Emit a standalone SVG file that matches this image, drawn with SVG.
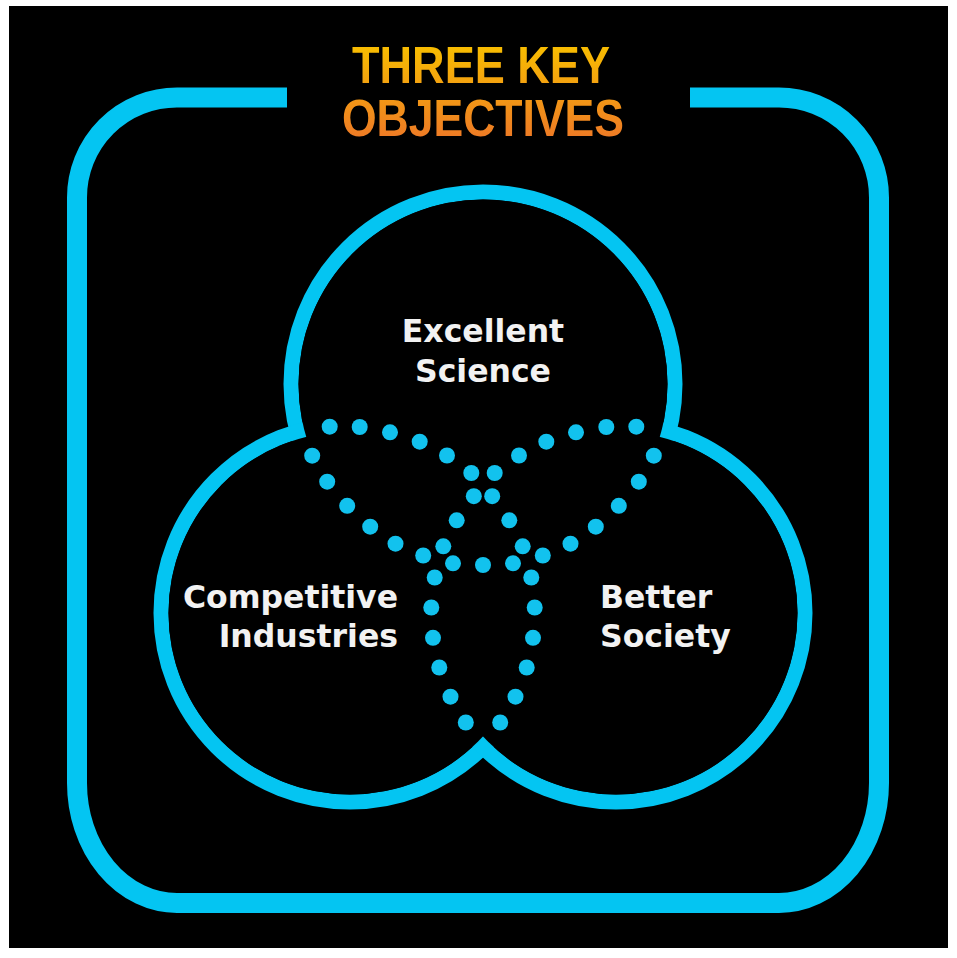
<svg xmlns="http://www.w3.org/2000/svg" width="957" height="958" viewBox="0 0 957 958">
<defs>
<linearGradient id="tg" gradientUnits="userSpaceOnUse" x1="0" y1="45" x2="0" y2="137">
<stop offset="0" stop-color="#F8BE00"/>
<stop offset="1" stop-color="#EE7B25"/>
</linearGradient>
<style>
.frame{fill:none;stroke:#04C5F2;stroke-width:20}
.ring{fill:none;stroke:#04C5F2;stroke-width:15}
.hole{fill:#000}
.dot{fill:#12C2EE}
.title{font-family:"Liberation Sans",Arial,sans-serif;font-weight:bold;font-size:52px;fill:url(#tg);text-anchor:middle}
.lbl{font-family:"DejaVu Sans","Liberation Sans",sans-serif;font-weight:bold;font-size:31.5px;fill:#F2F2F2}
</style>
</defs>
<rect x="0" y="0" width="957" height="958" fill="#fff"/>
<rect x="9" y="6" width="939" height="942" fill="#000"/>
<g id="frame">
<path class="frame" d="M287 97.5 H177 A100 100 0 0 0 77 197.5 V783 A100 120 0 0 0 177 903 H779 A100 120 0 0 0 879 783 V197.5 A100 100 0 0 0 779 97.5 H690"/>
</g>
<g id="title">
<text class="title" x="481" y="83" textLength="258" lengthAdjust="spacingAndGlyphs">THREE KEY</text>
<text class="title" x="483" y="136" textLength="282" lengthAdjust="spacingAndGlyphs">OBJECTIVES</text>
</g>
<g id="circles">
<circle class="ring" cx="483" cy="384" r="192"/>
<circle class="ring" cx="350" cy="613" r="189"/>
<circle class="ring" cx="616" cy="613" r="189"/>
<circle class="hole" cx="483" cy="384" r="184.5"/>
<circle class="hole" cx="350" cy="613" r="181.5"/>
<circle class="hole" cx="616" cy="613" r="181.5"/>
</g>
<g id="connectors">
<circle class="dot" cx="329.7" cy="426.7" r="8"/><circle class="dot" cx="636.3" cy="426.7" r="8"/>
<circle class="dot" cx="359.7" cy="427" r="8"/><circle class="dot" cx="606.3" cy="427" r="8"/>
<circle class="dot" cx="390" cy="432.3" r="8"/><circle class="dot" cx="576" cy="432.3" r="8"/>
<circle class="dot" cx="419.7" cy="441.7" r="8"/><circle class="dot" cx="546.3" cy="441.7" r="8"/>
<circle class="dot" cx="447" cy="455.5" r="8"/><circle class="dot" cx="519" cy="455.5" r="8"/>
<circle class="dot" cx="471.3" cy="473" r="8"/><circle class="dot" cx="494.7" cy="473" r="8"/>
<circle class="dot" cx="473.8" cy="496.2" r="8"/><circle class="dot" cx="492.2" cy="496.2" r="8"/>
<circle class="dot" cx="312.2" cy="455.7" r="8"/><circle class="dot" cx="653.8" cy="455.7" r="8"/>
<circle class="dot" cx="327.2" cy="481.7" r="8"/><circle class="dot" cx="638.8" cy="481.7" r="8"/>
<circle class="dot" cx="347.2" cy="505.8" r="8"/><circle class="dot" cx="618.8" cy="505.8" r="8"/>
<circle class="dot" cx="370.2" cy="526.7" r="8"/><circle class="dot" cx="595.8" cy="526.7" r="8"/>
<circle class="dot" cx="395.5" cy="543.7" r="8"/><circle class="dot" cx="570.5" cy="543.7" r="8"/>
<circle class="dot" cx="423.2" cy="555.5" r="8"/><circle class="dot" cx="542.8" cy="555.5" r="8"/>
<circle class="dot" cx="443.3" cy="546.3" r="8"/><circle class="dot" cx="522.7" cy="546.3" r="8"/>
<circle class="dot" cx="453" cy="563.3" r="8"/><circle class="dot" cx="513" cy="563.3" r="8"/>
<circle class="dot" cx="456.7" cy="520.3" r="8"/><circle class="dot" cx="509.3" cy="520.3" r="8"/>
<circle class="dot" cx="483" cy="565" r="8"/>
<circle class="dot" cx="434.7" cy="577.5" r="8"/><circle class="dot" cx="531.3" cy="577.5" r="8"/>
<circle class="dot" cx="431.3" cy="607.5" r="8"/><circle class="dot" cx="534.7" cy="607.5" r="8"/>
<circle class="dot" cx="433" cy="637.8" r="8"/><circle class="dot" cx="533" cy="637.8" r="8"/>
<circle class="dot" cx="439.3" cy="667.5" r="8"/><circle class="dot" cx="526.7" cy="667.5" r="8"/>
<circle class="dot" cx="450.5" cy="696.7" r="8"/><circle class="dot" cx="515.5" cy="696.7" r="8"/>
<circle class="dot" cx="465.8" cy="722.5" r="8"/><circle class="dot" cx="500.2" cy="722.5" r="8"/>
</g>
<g id="excellent-science">
<text class="lbl" x="483" y="342" text-anchor="middle">Excellent</text>
<text class="lbl" x="483" y="382" text-anchor="middle">Science</text>
</g>
<g id="competitive-industries">
<text class="lbl" x="398" y="608" text-anchor="end">Competitive</text>
<text class="lbl" x="398" y="647" text-anchor="end">Industries</text>
</g>
<g id="better-society">
<text class="lbl" x="600" y="608">Better</text>
<text class="lbl" x="600" y="647">Society</text>
</g>
</svg>
